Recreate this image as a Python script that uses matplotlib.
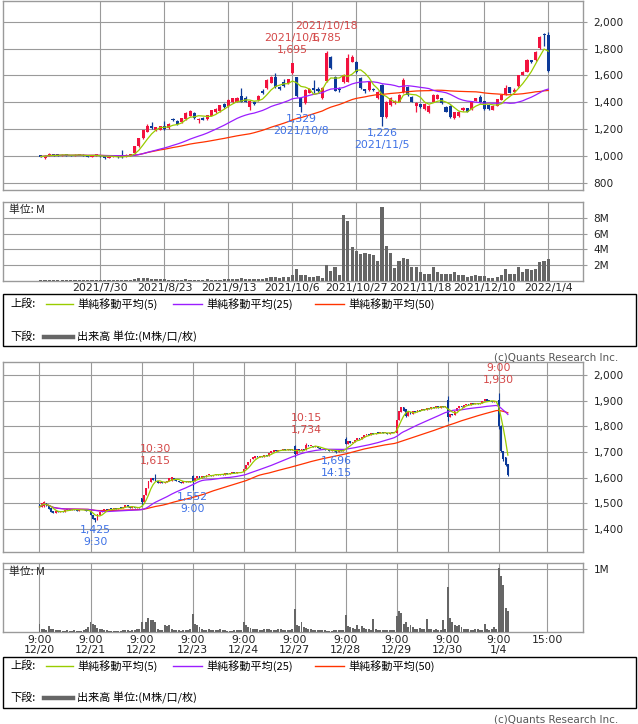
import numpy as np
import pandas as pd
import matplotlib
matplotlib.use('Agg')
import matplotlib.pyplot as plt
from matplotlib.lines import Line2D
from matplotlib.patches import Rectangle

plt.rcParams['font.family'] = ['DejaVu Sans', 'Noto Sans CJK JP']
JP = ['Noto Sans CJK JP', 'DejaVu Sans']

# ---------------- daily data (index 0 = 2021/7/30) ----------------
day_start = -14
d_open = [1005, 985, 1000, 1012, 1006, 1003, 1010, 1004, 1000, 1006,
          1010, 1000, 994, 1004, 1005, 996, 986, 994, 998, 996,
          992, 1005, 1020, 1070, 1130, 1180, 1222, 1195, 1195, 1222,
          1205, 1272, 1260, 1250, 1272, 1300, 1318, 1265, 1285, 1272,
          1300, 1325, 1332, 1385, 1368, 1398, 1405, 1446, 1428, 1365,
          1405, 1415, 1482, 1503, 1545, 1590, 1515, 1552, 1542, 1618,
          1585, 1430, 1392, 1472, 1505, 1500, 1430, 1560, 1735, 1590,
          1500, 1553, 1553, 1702, 1702, 1580, 1495, 1491, 1500, 1430,
          1528, 1292, 1379, 1395, 1404, 1478, 1515, 1441, 1370, 1383,
          1350, 1330, 1404, 1425, 1429, 1366, 1370, 1285, 1295, 1340,
          1355, 1350, 1412, 1441, 1408, 1378, 1345, 1372, 1418, 1461,
          1510, 1478, 1520, 1603, 1627, 1714, 1714, 1801, 1910, 1900]
d_high = [1010, 1003, 1018, 1016, 1012, 1015, 1014, 1008, 1012, 1016,
          1013, 1004, 1008, 1012, 1008, 1000, 998, 1002, 1000, 1045,
          1015, 1016, 1075, 1135, 1195, 1235, 1255, 1218, 1226, 1262,
          1245, 1282, 1265, 1285, 1325, 1340, 1325, 1282, 1290, 1308,
          1345, 1354, 1382, 1392, 1425, 1432, 1436, 1503, 1445, 1415,
          1410, 1452, 1500, 1570, 1595, 1615, 1520, 1570, 1575, 1695,
          1590, 1440, 1496, 1505, 1565, 1510, 1510, 1785, 1745, 1598,
          1510, 1610, 1760, 1750, 1708, 1585, 1500, 1560, 1505, 1482,
          1535, 1410, 1435, 1418, 1460, 1580, 1520, 1446, 1400, 1388,
          1392, 1380, 1460, 1458, 1434, 1370, 1380, 1328, 1335, 1365,
          1360, 1408, 1432, 1450, 1412, 1382, 1376, 1425, 1455, 1530,
          1515, 1505, 1605, 1630, 1720, 1718, 1780, 1890, 1915, 1925]
d_low = [990, 980, 998, 1002, 1000, 1000, 1000, 996, 998, 1004,
         996, 990, 992, 1000, 992, 980, 982, 988, 985, 984,
         988, 1000, 1015, 1065, 1125, 1175, 1200, 1188, 1190, 1195,
         1200, 1262, 1232, 1245, 1268, 1295, 1278, 1245, 1265, 1268,
         1296, 1320, 1328, 1360, 1364, 1394, 1400, 1400, 1400, 1345,
         1378, 1410, 1462, 1498, 1540, 1505, 1490, 1512, 1538, 1612,
         1436, 1329, 1388, 1468, 1470, 1475, 1420, 1550, 1650, 1480,
         1478, 1545, 1548, 1698, 1620, 1500, 1470, 1485, 1480, 1425,
         1226, 1280, 1372, 1390, 1398, 1470, 1448, 1398, 1330, 1360,
         1345, 1317, 1398, 1420, 1385, 1325, 1285, 1278, 1290, 1335,
         1325, 1345, 1408, 1395, 1345, 1340, 1340, 1368, 1414, 1455,
         1466, 1474, 1515, 1600, 1622, 1690, 1710, 1796, 1820, 1625]
d_close = [995, 1000, 1012, 1006, 1004, 1010, 1004, 1000, 1008, 1012,
           998, 994, 1005, 1009, 996, 986, 994, 998, 990, 988,
           1010, 1012, 1070, 1130, 1190, 1225, 1205, 1213, 1222, 1200,
           1240, 1266, 1238, 1280, 1320, 1335, 1282, 1278, 1270, 1303,
           1340, 1350, 1378, 1365, 1415, 1428, 1432, 1405, 1405, 1410,
           1385, 1448, 1468, 1565, 1590, 1512, 1500, 1518, 1570, 1690,
           1445, 1365, 1490, 1500, 1490, 1482, 1505, 1770, 1655, 1485,
           1488, 1603, 1730, 1739, 1627, 1505, 1480, 1553, 1488, 1478,
           1292, 1404, 1429, 1410, 1454, 1565, 1454, 1404, 1395, 1366,
           1385, 1375, 1454, 1454, 1392, 1330, 1292, 1325, 1330, 1360,
           1330, 1404, 1429, 1400, 1350, 1350, 1372, 1421, 1450, 1503,
           1470, 1490, 1602, 1627, 1714, 1702, 1776, 1888, 1900, 1635]
d_volume = [0.03, 0.02, 0.03, 0.02, 0.02, 0.03, 0.02, 0.02, 0.03, 0.02,
            0.02, 0.03, 0.02, 0.03, 0.02, 0.03, 0.05, 0.03, 0.04, 0.12,
            0.06, 0.05, 0.25, 0.35, 0.38, 0.30, 0.22, 0.18, 0.15, 0.15,
            0.12, 0.10, 0.12, 0.10, 0.15, 0.12, 0.10, 0.10, 0.12, 0.15,
            0.12, 0.10, 0.12, 0.15, 0.15, 0.20, 0.25, 0.35, 0.20, 0.20,
            0.15, 0.20, 0.25, 0.35, 0.40, 0.40, 0.35, 0.45, 0.50, 0.70,
            1.5, 0.7, 0.7, 0.5, 0.5, 0.55, 0.35, 2.0, 1.2, 1.7, 0.7,
            8.4, 7.6, 4.3, 3.8, 3.4, 3.5, 3.4, 3.3, 2.5,
            9.5, 4.5, 3.6, 1.65, 2.5, 2.95, 2.8, 1.8, 1.8,
            1.05, 0.8, 0.9, 1.75, 1.05, 0.9, 0.8, 0.8, 1.05,
            0.7, 0.7, 0.45, 0.6, 0.7, 0.6, 0.6, 0.35, 0.35,
            0.5, 0.7, 1.5, 0.85, 0.85, 1.75, 1.05, 1.5, 1.4,
            1.5, 2.4, 2.5, 2.8]
d_tick_pos = [0, 15, 30, 45, 60, 75, 90, 105]
d_tick_labels = ['2021/7/30', '2021/8/23', '2021/9/13', '2021/10/6',
                 '2021/10/27', '2021/11/18', '2021/12/10', '2022/1/4']
d_high_marks = [(45, 1695, '2021/10/6', '1,695'), (53, 1785, '2021/10/18', '1,785')]
d_low_marks = [(47, 1329, '1,329', '2021/10/8'), (66, 1226, '1,226', '2021/11/5')]

# ---------------- intraday 15-min data (22 bars per day) ----------------
bars_per_day = 22
i_day_labels = ['12/20', '12/21', '12/22', '12/23', '12/24', '12/27', '12/28', '12/29', '12/30', '1/4']
i_open = [
    1498, 1485, 1490, 1500, 1488, 1480, 1468, 1462, 1468, 1466, 1470, 1466, 1472, 1476, 1474, 1478, 1475, 1470, 1474, 1472, 1476, 1471,
    1468, 1452, 1442, 1436, 1455, 1466, 1472, 1476, 1473, 1478, 1476, 1480, 1477, 1482, 1480, 1485, 1494, 1486, 1482, 1484, 1481, 1484,
    1522, 1505, 1530, 1560, 1582, 1598, 1600, 1585, 1578, 1584, 1580, 1583, 1586, 1588, 1600, 1590, 1588, 1584, 1580, 1585, 1582, 1586,
    1605, 1585, 1598, 1605, 1600, 1608, 1602, 1610, 1612, 1608, 1612, 1615, 1610, 1614, 1612, 1616, 1614, 1618, 1620, 1616, 1620, 1622,
    1620, 1635, 1648, 1660, 1672, 1678, 1684, 1680, 1684, 1682, 1688, 1684, 1696, 1702, 1708, 1704, 1708, 1706, 1710, 1707, 1710, 1708,
    1722, 1692, 1710, 1705, 1712, 1708, 1726, 1722, 1725, 1720, 1723, 1716, 1712, 1710, 1706, 1709, 1704, 1707, 1704, 1702, 1706, 1704,
    1750, 1732, 1742, 1736, 1740, 1748, 1755, 1752, 1760, 1768, 1772, 1768, 1774, 1770, 1776, 1773, 1777, 1774, 1776, 1772, 1775, 1773,
    1776, 1826, 1858, 1876, 1868, 1842, 1856, 1850, 1862, 1858, 1866, 1864, 1870, 1866, 1874, 1870, 1876, 1872, 1878, 1874, 1880, 1876,
    1905, 1835, 1850, 1845, 1862, 1872, 1880, 1876, 1884, 1888, 1885, 1890, 1888, 1892, 1888, 1890, 1900, 1906, 1900, 1898, 1895, 1898,
    1905, 1800, 1705, 1680, 1655]
i_close = [
    1485, 1500, 1505, 1488, 1478, 1465, 1462, 1470, 1466, 1470, 1467, 1472, 1476, 1474, 1478, 1475, 1470, 1474, 1472, 1476, 1471, 1470,
    1452, 1440, 1436, 1456, 1466, 1472, 1476, 1473, 1478, 1476, 1480, 1477, 1482, 1480, 1486, 1494, 1486, 1482, 1484, 1481, 1484, 1482,
    1503, 1530, 1560, 1585, 1598, 1590, 1585, 1578, 1584, 1580, 1583, 1586, 1600, 1602, 1590, 1588, 1584, 1580, 1585, 1582, 1586, 1583,
    1585, 1598, 1605, 1600, 1608, 1602, 1610, 1612, 1608, 1612, 1615, 1610, 1614, 1612, 1616, 1614, 1618, 1620, 1616, 1620, 1622, 1620,
    1635, 1648, 1660, 1672, 1680, 1684, 1680, 1685, 1682, 1688, 1684, 1696, 1704, 1708, 1704, 1708, 1706, 1710, 1707, 1710, 1708, 1710,
    1692, 1710, 1705, 1712, 1706, 1726, 1722, 1725, 1720, 1723, 1716, 1712, 1710, 1706, 1709, 1704, 1707, 1704, 1702, 1706, 1704, 1706,
    1732, 1742, 1736, 1740, 1748, 1755, 1752, 1760, 1768, 1772, 1768, 1774, 1770, 1776, 1773, 1777, 1774, 1776, 1772, 1775, 1773, 1776,
    1826, 1860, 1876, 1862, 1842, 1856, 1848, 1862, 1858, 1866, 1862, 1870, 1866, 1874, 1870, 1876, 1872, 1878, 1874, 1880, 1876, 1878,
    1835, 1850, 1845, 1862, 1872, 1880, 1876, 1884, 1888, 1885, 1890, 1888, 1892, 1888, 1890, 1900, 1906, 1900, 1898, 1895, 1898, 1896,
    1800, 1705, 1672, 1650, 1612]
# notable wicks: bar -> (high, low)
i_wicks = {2: (1509, 1485), 22: (1472, 1452), 24: (1442, 1425), 44: (1522, 1490), 50: (1615, 1585),
           66: (1612, 1552), 110: (1728, 1680), 115: (1734, 1708), 128: (1704, 1696), 132: (1760, 1732),
           158: (1868, 1838), 176: (1918, 1822), 198: (1930, 1790), 199: (1805, 1700), 200: (1705, 1665),
           201: (1680, 1645), 202: (1655, 1608)}
i_volume = [
    0.13, 0.06, 0.05, 0.04, 0.10, 0.06, 0.05, 0.03, 0.04, 0.03, 0.02, 0.02, 0.03, 0.02, 0.02, 0.03, 0.02, 0.02, 0.02, 0.03, 0.05, 0.08,
    0.16, 0.13, 0.12, 0.07, 0.06, 0.05, 0.04, 0.03, 0.02, 0.02, 0.02, 0.02, 0.02, 0.02, 0.03, 0.03, 0.03, 0.02, 0.03, 0.04, 0.06, 0.05,
    0.16, 0.06, 0.17, 0.23, 0.20, 0.20, 0.17, 0.05, 0.04, 0.04, 0.11, 0.10, 0.11, 0.05, 0.04, 0.03, 0.03, 0.02, 0.03, 0.03, 0.04, 0.05,
    0.29, 0.13, 0.12, 0.08, 0.05, 0.04, 0.03, 0.06, 0.04, 0.03, 0.03, 0.04, 0.05, 0.03, 0.03, 0.02, 0.02, 0.02, 0.03, 0.03, 0.03, 0.04,
    0.17, 0.11, 0.08, 0.07, 0.06, 0.05, 0.06, 0.04, 0.03, 0.06, 0.06, 0.05, 0.04, 0.03, 0.04, 0.06, 0.05, 0.04, 0.04, 0.03, 0.03, 0.05,
    0.37, 0.11, 0.10, 0.17, 0.09, 0.07, 0.06, 0.05, 0.04, 0.03, 0.03, 0.03, 0.04, 0.03, 0.02, 0.02, 0.02, 0.03, 0.03, 0.03, 0.03, 0.04,
    0.27, 0.10, 0.09, 0.07, 0.06, 0.11, 0.05, 0.10, 0.07, 0.06, 0.05, 0.04, 0.21, 0.05, 0.04, 0.04, 0.03, 0.03, 0.03, 0.03, 0.04, 0.04,
    0.26, 0.34, 0.30, 0.13, 0.17, 0.09, 0.12, 0.08, 0.06, 0.06, 0.07, 0.05, 0.05, 0.21, 0.06, 0.05, 0.04, 0.05, 0.04, 0.04, 0.20, 0.06,
    0.72, 0.22, 0.17, 0.12, 0.10, 0.11, 0.08, 0.06, 0.05, 0.05, 0.04, 0.04, 0.06, 0.05, 0.04, 0.04, 0.13, 0.05, 0.04, 0.05, 0.08, 0.06,
    1.02, 0.90, 0.75, 0.38, 0.34]
i_high_marks = [(50, 1615, '10:30', '1,615'), (115, 1734, '10:15', '1,734'), (198, 1930, '9:00', '1,930')]
i_low_marks = [(24, 1425, '1,425', '9:30'), (66, 1552, '1,552', '9:00'), (128, 1696, '1,696', '14:15')]

# ---------------- style ----------------
W, H = 638, 724
RED = '#f2123e'
BLUE = '#0c3a98'
C5, C25, C50 = '#99cc00', '#9b1dff', '#ff3300'
GRID = '#9a9a9a'
LRED, LBLUE = '#d44848', '#3f72e6'
VOLC = '#666666'

fig = plt.figure(figsize=(W / 100, H / 100), dpi=100)
fig.patch.set_facecolor('white')


def add_ax(x0, y0, x1, y1):
    return fig.add_axes([x0 / W, 1 - y1 / H, (x1 - x0) / W, (y1 - y0) / H])


def style(ax):
    for s in ax.spines.values():
        s.set_color(GRID)
        s.set_linewidth(1.0)
    ax.yaxis.tick_right()
    ax.tick_params(axis='y', length=3, width=0.8, color=GRID, pad=4.5,
                   labelsize=7.6, labelcolor='#222222')
    ax.tick_params(axis='x', length=0, labelsize=7.8, labelcolor='#222222', pad=1.8)
    ax.grid(True, color=GRID, lw=0.8)
    ax.set_axisbelow(True)


def candles(ax, x, o, h, l, c, width, minh, wlw):
    o, h, l, c = map(np.asarray, (o, h, l, c))
    cols = np.where(c >= o, RED, BLUE)
    ax.vlines(x, l, h, colors=cols, lw=wlw, zorder=3)
    bottom = np.minimum(o, c)
    height = np.maximum(np.abs(c - o), minh)
    ax.bar(x, height, width, bottom=bottom, color=cols, linewidth=0, zorder=3)


def mas(ax, x, close):
    s = pd.Series(close, dtype=float)
    for n, col in ((50, C50), (25, C25), (5, C5)):
        ax.plot(x, s.rolling(n, min_periods=1).mean(), color=col, lw=0.9, zorder=4)


def marks(ax, highs, lows, xs):
    for i, v, t1, t2 in highs:
        ax.annotate(t1, (xs[i], v), xytext=(0, 25), textcoords='offset pixels',
                    ha='center', va='center', fontsize=7.8, color=LRED, zorder=6)
        ax.annotate(t2, (xs[i], v), xytext=(0, 13), textcoords='offset pixels',
                    ha='center', va='center', fontsize=7.8, color=LRED, zorder=6)
    for i, v, t1, t2 in lows:
        ax.annotate(t1, (xs[i], v), xytext=(0, -7.5), textcoords='offset pixels',
                    ha='center', va='center', fontsize=7.8, color=LBLUE, zorder=6)
        ax.annotate(t2, (xs[i], v), xytext=(0, -19.5), textcoords='offset pixels',
                    ha='center', va='center', fontsize=7.8, color=LBLUE, zorder=6)


# ================= top: daily =================
xd = np.arange(day_start, day_start + len(d_close))
xd_map = {int(v): v for v in xd}
ax1 = add_ax(3, 1, 583, 190)
ax1v = add_ax(3, 202, 583, 280.5)
for ax in (ax1, ax1v):
    style(ax)
    ax.set_xlim(-22.86, 113.13)
    ax.set_xticks(d_tick_pos)
ax1.set_xticklabels([])
ax1v.set_xticklabels(d_tick_labels)

candles(ax1, xd, d_open, d_high, d_low, d_close, 0.72, 7, 0.9)
mas(ax1, xd, d_close)
ax1.set_ylim(745.6, 2154)
yt = [800, 1000, 1200, 1400, 1600, 1800, 2000]
ax1.set_yticks(yt)
ax1.set_yticklabels([f'{v:,}' for v in yt])
marks(ax1, d_high_marks, d_low_marks, xd_map)

ax1v.bar(xd, d_volume, 0.75, color=VOLC, linewidth=0, zorder=3)
ax1v.set_ylim(0, 10.1)
ax1v.set_yticks([2, 4, 6, 8])
ax1v.set_yticklabels(['2M', '4M', '6M', '8M'])
ax1v.text(0.01, 0.9, '単位: M', transform=ax1v.transAxes, fontsize=7.8,
          family=JP, va='center', ha='left', color='#222222')

# ================= bottom: intraday =================
n_i = len(i_close)
xi = np.array([(k // bars_per_day) * bars_per_day + k % bars_per_day for k in range(n_i)], dtype=float)
i_hi = np.maximum(np.array(i_open), np.array(i_close)).astype(float)
i_lo = np.minimum(np.array(i_open), np.array(i_close)).astype(float)
for k, (hh, ll) in i_wicks.items():
    i_hi[k] = hh
    i_lo[k] = ll

ax2 = add_ax(3, 362, 583, 552)
ax2v = add_ax(3, 563.3, 583, 632.3)
i_tick_pos = [d * bars_per_day for d in range(len(i_day_labels))] + [9 * bars_per_day + 21]
i_tick_labels = [f'9:00\n{d}' for d in i_day_labels] + ['15:00']
for ax in (ax2, ax2v):
    style(ax)
    ax.set_xlim(-15.74, 234.4)
    ax.set_xticks(i_tick_pos)
ax2.set_xticklabels([])
ax2v.set_xticklabels(i_tick_labels)
for lbl in ax2v.get_xticklabels():
    lbl.set_linespacing(1.05)

candles(ax2, xi, i_open, i_hi, i_lo, i_close, 0.8, 3.5, 0.8)
mas(ax2, xi, i_close)
ax2.set_ylim(1309, 2052)
yt2 = [1400, 1500, 1600, 1700, 1800, 1900, 2000]
ax2.set_yticks(yt2)
ax2.set_yticklabels([f'{v:,}' for v in yt2])
marks(ax2, i_high_marks, i_low_marks, {k: xi[k] for k in range(n_i)})

ax2v.bar(xi, i_volume, 0.85, color=VOLC, linewidth=0, zorder=3)
ax2v.set_ylim(0, 1.095)
ax2v.set_yticks([1])
ax2v.set_yticklabels(['1M'])
ax2v.text(0.01, 0.88, '単位: M', transform=ax2v.transAxes, fontsize=7.8,
          family=JP, va='center', ha='left', color='#222222')


# ================= legends & credits =================
def fx(x):
    return x / W


def fy(y):
    return 1 - y / H


def legend_box(y0, y1, r1, r2):
    fig.add_artist(Rectangle((fx(3), fy(y1)), fx(636) - fx(3), fy(y0) - fy(y1),
                             transform=fig.transFigure, fill=False, edgecolor='black', lw=1))
    fig.text(fx(10), fy(r1), '上段:', family=JP, fontsize=8, va='center', ha='left')
    for x0, x1, col, txt in ((46, 73, C5, '単純移動平均(5)'), (173, 202, C25, '単純移動平均(25)'),
                             (315, 344, C50, '単純移動平均(50)')):
        fig.add_artist(Line2D([fx(x0), fx(x1)], [fy(r1), fy(r1)], transform=fig.transFigure,
                              color=col, lw=1))
        fig.text(fx(x1 + 4), fy(r1), txt, family=JP, fontsize=8, va='center', ha='left')
    fig.text(fx(10), fy(r2), '下段:', family=JP, fontsize=8, va='center', ha='left')
    fig.add_artist(Line2D([fx(44), fx(73)], [fy(r2), fy(r2)], transform=fig.transFigure,
                          color=VOLC, lw=3.2))
    fig.text(fx(77), fy(r2), '出来高 単位:(M株/口/枚)', family=JP, fontsize=8, va='center', ha='left')


legend_box(294, 346, 304, 337)
legend_box(657, 708, 666, 698)
for yy in (357, 719):
    fig.text(fx(618), fy(yy), '(c)Quants Research Inc.', fontsize=7.5, color='#555555',
             ha='right', va='center')

fig.savefig('out.png', dpi=100, facecolor='white')
